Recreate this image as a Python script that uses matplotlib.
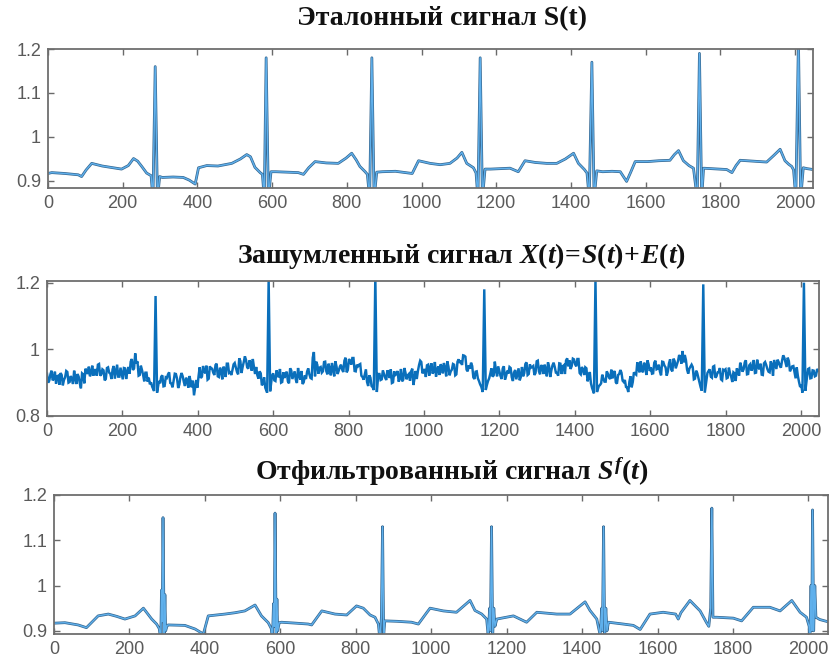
import numpy as np
import matplotlib
matplotlib.use("Agg")
import matplotlib.pyplot as plt
import matplotlib.patheffects as pe

# ---------------- data ----------------
# Reference signal S(t): key points (sample index, value)
ref_t = [0, 10, 45, 81, 90, 102, 117, 145, 175, 197, 215, 229, 240, 251, 264, 276, 281, 287, 293, 299,
         306, 335, 362, 378, 394, 403, 425, 455, 492, 515, 532, 542, 554, 568, 574, 579, 584, 590, 597,
         610, 640, 670, 684, 698, 715, 745, 777, 798, 813, 825, 835, 849, 855, 861, 867, 873, 880,
         895, 930, 965, 975, 992, 1023, 1050, 1076, 1095, 1108, 1121, 1139, 1146, 1151, 1157, 1163, 1170,
         1185, 1210, 1237, 1259, 1277, 1305, 1335, 1362, 1385, 1407, 1420, 1436, 1443, 1449, 1456, 1462, 1469,
         1485, 1510, 1532, 1549, 1560, 1572, 1605, 1635, 1665, 1677, 1688, 1701, 1716, 1728, 1738, 1744, 1750, 1755,
         1775, 1795, 1817, 1831, 1842, 1853, 1888, 1924, 1943, 1960, 1973, 1983, 1991, 1996, 2002, 2009, 2015, 2022, 2032, 2048]
ref_s = [0.917, 0.919, 0.917, 0.914, 0.910, 0.925, 0.940, 0.934, 0.930, 0.927, 0.935, 0.951, 0.945, 0.933, 0.918, 0.912, 0.86, 1.16, 0.86, 0.910,
         0.908, 0.909, 0.908, 0.902, 0.893, 0.930, 0.935, 0.934, 0.940, 0.950, 0.960, 0.955, 0.931, 0.919, 0.915, 0.86, 1.18, 0.86, 0.921,
         0.921, 0.920, 0.919, 0.915, 0.930, 0.944, 0.941, 0.940, 0.952, 0.963, 0.948, 0.933, 0.921, 0.915, 0.86, 1.18, 0.86, 0.920,
         0.921, 0.922, 0.918, 0.917, 0.946, 0.940, 0.937, 0.940, 0.952, 0.965, 0.940, 0.930, 0.918, 0.86, 1.18, 0.86, 0.927,
         0.927, 0.928, 0.929, 0.921, 0.946, 0.942, 0.940, 0.940, 0.950, 0.963, 0.940, 0.926, 0.918, 0.86, 1.17, 0.86, 0.923,
         0.921, 0.922, 0.921, 0.899, 0.920, 0.944, 0.944, 0.946, 0.947, 0.960, 0.969, 0.946, 0.935, 0.929, 0.86, 1.19, 0.86, 0.929,
         0.928, 0.927, 0.926, 0.919, 0.935, 0.947, 0.945, 0.943, 0.958, 0.972, 0.946, 0.938, 0.933, 0.925, 0.86, 1.22, 0.86, 0.930, 0.928, 0.926]

# Noisy signal X(t): readings every 6 samples (t = 0, 6, 12, ...), one list per stretch
noisy_step = 6
noisy_seg1 = [0.927, 0.906, 0.936, 0.911, 0.897, 0.921, 0.929, 0.892, 0.916, 0.932,
              0.902, 0.911, 0.936, 0.896, 0.918, 0.883, 0.925, 0.942, 0.926, 0.919,
              0.951, 0.938, 0.921, 0.956, 0.925, 0.937, 0.911, 0.946, 0.927, 0.940,
              0.912, 0.954, 0.918, 0.928, 0.944, 0.911, 0.947, 0.963, 0.938, 0.988,
              0.964, 0.923, 0.938, 0.904, 0.930, 0.915, 0.901, 0.895, 0.900, 0.900]
noisy_seg2 = [0.898, 0.922, 0.890, 0.914, 0.931, 0.897, 0.906, 0.926, 0.884, 0.917,
              0.919, 0.890, 0.905, 0.920, 0.886, 0.862, 0.908, 0.919, 0.914, 0.950,
              0.928, 0.909, 0.949, 0.942, 0.923, 0.957, 0.917, 0.936, 0.948, 0.917,
              0.957, 0.931, 0.938, 0.959, 0.932, 0.973, 0.929, 0.962, 0.968, 0.942,
              0.960, 0.971, 0.926, 0.922, 0.934, 0.892, 0.916, 0.900, 0.900, 0.900]
noisy_seg3 = [0.928, 0.905, 0.924, 0.941, 0.902, 0.914, 0.933, 0.898, 0.937, 0.922,
              0.909, 0.944, 0.909, 0.896, 0.922, 0.933, 0.925, 0.912, 0.992, 0.963,
              0.927, 0.947, 0.934, 0.963, 0.925, 0.941, 0.959, 0.919, 0.949, 0.936,
              0.954, 0.932, 0.975, 0.938, 0.965, 0.974, 0.935, 0.954, 0.954, 0.921,
              0.909, 0.940, 0.890, 0.915, 0.886, 0.900, 0.900, 0.926, 0.910, 0.926]
noisy_seg4 = [0.908, 0.929, 0.940, 0.901, 0.923, 0.935, 0.914, 0.904, 0.944, 0.910,
              0.926, 0.934, 0.893, 0.935, 0.935, 0.966, 0.928, 0.941, 0.952, 0.921,
              0.958, 0.934, 0.918, 0.949, 0.955, 0.928, 0.944, 0.964, 0.922, 0.939,
              0.954, 0.925, 0.970, 0.966, 0.982, 0.978, 0.934, 0.942, 0.950, 0.911,
              0.934, 0.905, 0.888, 0.900, 0.900, 0.905, 0.927, 0.918, 0.963, 0.919]
noisy_seg5 = [0.935, 0.911, 0.949, 0.920, 0.927, 0.944, 0.905, 0.938, 0.927, 0.907,
              0.947, 0.928, 0.961, 0.926, 0.945, 0.950, 0.929, 0.966, 0.925, 0.946,
              0.954, 0.919, 0.949, 0.937, 0.960, 0.930, 0.921, 0.957, 0.949, 0.926,
              0.973, 0.967, 0.950, 0.970, 0.949, 0.971, 0.925, 0.940, 0.946, 0.904,
              0.932, 0.884, 0.900, 0.900, 0.890, 0.898, 0.912, 0.903, 0.927, 0.911]
noisy_seg6 = [0.913, 0.935, 0.897, 0.926, 0.930, 0.902, 0.887, 0.872, 0.919, 0.902,
              0.927, 0.961, 0.931, 0.938, 0.960, 0.923, 0.955, 0.946, 0.928, 0.966,
              0.942, 0.933, 0.963, 0.951, 0.921, 0.958, 0.939, 0.972, 0.943, 0.965,
              0.976, 0.995, 0.983, 0.939, 0.942, 0.954, 0.910, 0.936, 0.915, 0.886,
              0.900, 0.900, 0.929, 0.940, 0.915, 0.950, 0.919, 0.932, 0.910, 0.939]
noisy_seg7 = [0.940, 0.915, 0.928, 0.902, 0.928, 0.943, 0.921, 0.948, 0.940, 0.967,
              0.926, 0.956, 0.946, 0.929, 0.969, 0.940, 0.924, 0.958, 0.953, 0.933,
              0.964, 0.921, 0.954, 0.969, 0.951, 0.966, 0.975, 0.947, 0.965, 0.942,
              0.950, 0.913, 0.920, 0.887, 0.900, 0.900, 0.915, 0.943, 0.914, 0.936,
              0.921, 0.936]
# In-between readings (t = 3, 9, 15, ...)
noisy_mid1 = [0.900, 0.925, 0.907, 0.933, 0.919, 0.894, 0.923, 0.908, 0.935, 0.900,
              0.920, 0.896, 0.913, 0.926, 0.898, 0.928, 0.898, 0.935, 0.948, 0.929,
              0.921, 0.938, 0.954, 0.921, 0.940, 0.907, 0.944, 0.930, 0.911, 0.950,
              0.933, 0.918, 0.945, 0.910, 0.943, 0.933, 0.927, 0.971, 0.943, 0.958,
              0.921, 0.951, 0.923, 0.930, 0.903, 0.895, 0.888, 0.900, 0.900, 0.905]
noisy_mid2 = [0.918, 0.889, 0.916, 0.925, 0.899, 0.886, 0.927, 0.912, 0.894, 0.929,
              0.902, 0.915, 0.885, 0.904, 0.906, 0.884, 0.885, 0.946, 0.918, 0.935,
              0.951, 0.912, 0.943, 0.930, 0.953, 0.919, 0.945, 0.910, 0.941, 0.957,
              0.929, 0.923, 0.955, 0.945, 0.925, 0.965, 0.947, 0.979, 0.946, 0.967,
              0.936, 0.947, 0.947, 0.912, 0.928, 0.898, 0.885, 0.900, 0.900, 0.921]
noisy_mid3 = [0.907, 0.937, 0.916, 0.900, 0.931, 0.926, 0.904, 0.943, 0.911, 0.934,
              0.899, 0.922, 0.935, 0.901, 0.911, 0.943, 0.914, 0.975, 0.919, 0.954,
              0.945, 0.930, 0.962, 0.934, 0.957, 0.922, 0.941, 0.964, 0.926, 0.948,
              0.939, 0.966, 0.931, 0.971, 0.954, 0.974, 0.934, 0.949, 0.956, 0.917,
              0.925, 0.902, 0.922, 0.890, 0.900, 0.900, 0.926, 0.908, 0.937, 0.915]
noisy_mid4 = [0.937, 0.914, 0.899, 0.934, 0.926, 0.903, 0.941, 0.909, 0.930, 0.922,
              0.906, 0.942, 0.913, 0.911, 0.953, 0.962, 0.933, 0.917, 0.954, 0.946,
              0.927, 0.962, 0.938, 0.923, 0.950, 0.959, 0.919, 0.948, 0.934, 0.956,
              0.922, 0.963, 0.959, 0.953, 0.981, 0.939, 0.952, 0.960, 0.916, 0.933,
              0.913, 0.895, 0.900, 0.900, 0.893, 0.913, 0.943, 0.922, 0.937, 0.949]
noisy_mid5 = [0.920, 0.943, 0.909, 0.936, 0.947, 0.916, 0.931, 0.910, 0.943, 0.917,
              0.919, 0.956, 0.923, 0.955, 0.947, 0.923, 0.964, 0.934, 0.953, 0.926,
              0.940, 0.961, 0.917, 0.952, 0.947, 0.929, 0.958, 0.926, 0.952, 0.967,
              0.949, 0.941, 0.972, 0.955, 0.971, 0.929, 0.947, 0.923, 0.943, 0.916,
              0.898, 0.900, 0.900, 0.900, 0.893, 0.924, 0.903, 0.934, 0.915, 0.939]
noisy_mid6 = [0.929, 0.901, 0.923, 0.938, 0.906, 0.908, 0.885, 0.903, 0.886, 0.931,
              0.924, 0.943, 0.964, 0.931, 0.951, 0.967, 0.935, 0.927, 0.960, 0.940,
              0.954, 0.922, 0.962, 0.946, 0.933, 0.970, 0.934, 0.965, 0.954, 0.983,
              0.957, 0.961, 0.968, 0.927, 0.948, 0.947, 0.912, 0.929, 0.900, 0.900,
              0.900, 0.905, 0.935, 0.918, 0.948, 0.915, 0.931, 0.944, 0.907, 0.937]
noisy_mid7 = [0.913, 0.945, 0.918, 0.931, 0.905, 0.934, 0.960, 0.933, 0.961, 0.925,
              0.952, 0.936, 0.968, 0.930, 0.947, 0.957, 0.923, 0.962, 0.941, 0.931,
              0.954, 0.968, 0.941, 0.962, 0.945, 0.982, 0.961, 0.975, 0.934, 0.949,
              0.932, 0.946, 0.902, 0.893, 0.900, 0.900, 0.941, 0.913, 0.937, 0.919,
              0.941]
# QRS complexes of the noisy signal
noisy_r_t = [288, 588, 871, 1160, 1455, 1741, 2008]
noisy_q = [0.875, 0.870, 0.878, 0.872, 0.868, 0.876, 0.870]
noisy_r = [1.16, 1.21, 1.22, 1.18, 1.21, 1.195, 1.20]
noisy_s = [0.870, 0.874, 0.872, 0.878, 0.872, 0.870, 0.876]

# Filtered signal S^f(t): key points
filt_t = [3, 29, 64, 86, 117, 144, 166, 188, 215, 237, 259, 272, 279, 283, 285, 287, 289, 292, 294, 296, 300, 303,
          347, 374, 396, 409, 453, 480, 506, 533, 550, 568, 576, 579, 582, 584, 586, 589, 591, 593, 597, 603,
          640, 674, 683, 710, 745, 776, 802, 820, 838, 851, 860, 864, 868, 871, 874, 877,
          910, 948, 966, 988, 997, 1032, 1067, 1103, 1116, 1134, 1147, 1151, 1155, 1157, 1160, 1163, 1166, 1169, 1174,
          1218, 1253, 1280, 1333, 1368, 1408, 1421, 1439, 1448, 1452, 1454, 1457, 1460, 1463, 1466, 1470,
          1509, 1536, 1554, 1580, 1615, 1648, 1655, 1662, 1686, 1713, 1730, 1736, 1741, 1744, 1747, 1757,
          1801, 1823, 1854, 1898, 1925, 1956, 1978, 1995, 2002, 2004, 2007, 2009, 2011, 2014, 2017, 2020, 2030, 2052]
filt_s = [0.917, 0.918, 0.913, 0.907, 0.933, 0.937, 0.932, 0.926, 0.933, 0.950, 0.926, 0.915, 0.905, 0.88, 0.99, 0.92, 1.15, 0.89, 0.98, 0.90, 0.912, 0.913,
          0.912, 0.904, 0.893, 0.933, 0.937, 0.940, 0.944, 0.957, 0.933, 0.918, 0.905, 0.88, 0.96, 0.91, 1.16, 0.89, 0.97, 0.90, 0.918, 0.919,
          0.917, 0.915, 0.913, 0.944, 0.937, 0.935, 0.955, 0.950, 0.935, 0.930, 0.915, 0.88, 0.93, 1.13, 0.89, 0.922,
          0.921, 0.919, 0.915, 0.940, 0.950, 0.944, 0.941, 0.967, 0.945, 0.937, 0.926, 0.89, 0.95, 0.90, 1.13, 0.89, 0.95, 0.91, 0.926,
          0.933, 0.919, 0.941, 0.937, 0.937, 0.964, 0.945, 0.926, 0.89, 0.95, 0.90, 1.13, 0.89, 0.95, 0.90, 0.919,
          0.915, 0.912, 0.903, 0.937, 0.941, 0.937, 0.926, 0.940, 0.967, 0.944, 0.918, 0.91, 0.95, 1.171, 0.93, 0.930,
          0.928, 0.922, 0.952, 0.952, 0.944, 0.967, 0.941, 0.930, 0.91, 0.88, 1.0, 0.90, 1.167, 0.90, 1.0, 0.93, 0.925, 0.92]

x_ticks = [0, 200, 400, 600, 800, 1000, 1200, 1400, 1600, 1800, 2000]
titles = ["Эталонный сигнал S(t)",
          r"Зашумленный сигнал $\mathit{X(t)\!=\!S(t)\!+\!E(t)}$",
          r"Отфильтрованный сигнал $\mathit{S^f(t)}$"]

# ---------------- assemble noisy series ----------------
noisy_base = np.concatenate([noisy_seg1, noisy_seg2, noisy_seg3, noisy_seg4,
                             noisy_seg5, noisy_seg6, noisy_seg7])
noisy_mid = np.concatenate([noisy_mid1, noisy_mid2, noisy_mid3, noisy_mid4,
                            noisy_mid5, noisy_mid6, noisy_mid7])
base_t = np.concatenate([np.arange(len(noisy_base)) * noisy_step,
                         np.arange(len(noisy_mid)) * noisy_step + noisy_step // 2])
base_v = np.concatenate([noisy_base, noisy_mid])
rt = np.array(noisy_r_t)
keep = np.min(np.abs(base_t[:, None] - rt[None, :]), axis=1) > 6
qrs_t = np.concatenate([rt - 4, rt, rt + 4])
qrs_v = np.concatenate([noisy_q, noisy_r, noisy_s])
all_t = np.concatenate([base_t[keep], qrs_t])
all_v = np.concatenate([base_v[keep], qrs_v])
order = np.argsort(all_t, kind="stable")
noisy_t = all_t[order]
noisy_x = all_v[order]

# ---------------- figure ----------------
plt.rcParams["mathtext.fontset"] = "custom"
plt.rcParams["mathtext.it"] = "Liberation Serif:italic:bold"
plt.rcParams["mathtext.rm"] = "Liberation Serif:bold"
plt.rcParams["mathtext.bf"] = "Liberation Serif:bold"

W, H = 835, 666
fig = plt.figure(figsize=(W / 100, H / 100), dpi=100)
fig.patch.set_facecolor("white")


def add_ax(left, right, top, bottom):
    return fig.add_axes([left / W, 1 - bottom / H, (right - left) / W, (bottom - top) / H])


def style(ax, xmax, ylim, yticks, ylabels):
    ax.set_xlim(0, xmax)
    ax.set_ylim(*ylim)
    ax.set_xticks(x_ticks)
    ax.set_yticks(yticks)
    ax.set_yticklabels(ylabels)
    ax.tick_params(direction="in", length=4, width=1.0, top=True, right=True,
                   colors="#6a6a6a", labelcolor="#5a5a5a", labelsize=13, pad=5)
    for lab in ax.get_xticklabels() + ax.get_yticklabels():
        lab.set_fontfamily("Liberation Sans")
    for sp in ax.spines.values():
        sp.set_color("#6e6e6e")
        sp.set_linewidth(1.3)


clean_fx = [pe.withStroke(linewidth=2.0, foreground="#35668f")]

ax1 = add_ax(48, 813, 49, 188)
ax1.plot(ref_t, ref_s, color="#5fb0ec", lw=1.0, path_effects=clean_fx, solid_joinstyle="round")
style(ax1, 2048, (0.884, 1.2), [0.9, 1.0, 1.1, 1.2], ["0.9", "1", "1.1", "1.2"])

ax2 = add_ax(47, 819, 281, 416)
ax2.plot(noisy_t, noisy_x, color="#0a6fbb", lw=1.75, solid_joinstyle="miter")
style(ax2, 2048, (0.8, 1.205), [0.8, 1.0, 1.2], ["0.8", "1", "1.2"])

ax3 = add_ax(54, 828, 495, 634)
ax3.plot(filt_t, filt_s, color="#5fb0ec", lw=1.0, path_effects=clean_fx, solid_joinstyle="round")
style(ax3, 2052, (0.893, 1.2), [0.9, 1.0, 1.1, 1.2], ["0.9", "1", "1.1", "1.2"])

title_pos = [(442, 19), (461, 256), (452, 472)]
for txt, (cx, cy) in zip(titles, title_pos):
    fig.text(cx / W, 1 - cy / H, txt, ha="center", va="center",
             fontfamily="Liberation Serif", fontweight="bold", fontsize=20, color="#111111")

fig.savefig("out.png", dpi=100, facecolor="white")
